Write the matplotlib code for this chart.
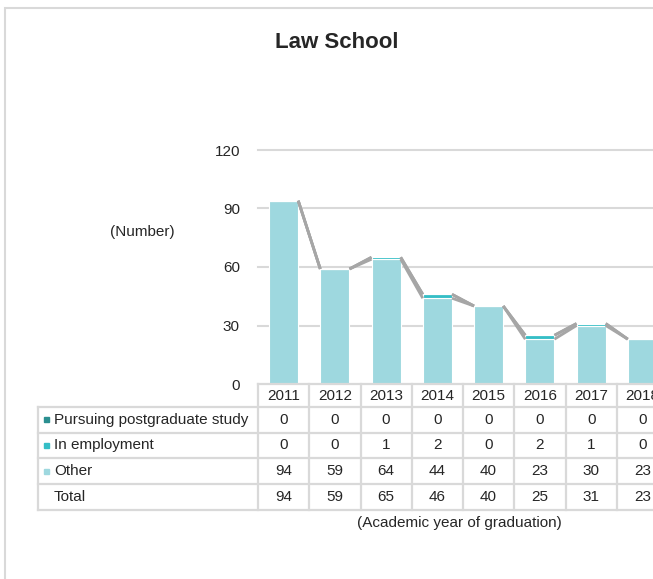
import matplotlib
matplotlib.use("Agg")
import matplotlib.pyplot as plt
import matplotlib.transforms as mtransforms
from matplotlib.patches import Rectangle
from matplotlib.lines import Line2D
import numpy as np

plt.rcParams['font.family'] = ['Liberation Sans', 'DejaVu Sans']

years = ['2011', '2012', '2013', '2014', '2015', '2016', '2017', '2018']
pursuing = [0, 0, 0, 0, 0, 0, 0, 0]
employment = [0, 0, 1, 2, 0, 2, 1, 0]
other = [94, 59, 64, 44, 40, 23, 30, 23]
total = [94, 59, 65, 46, 40, 25, 31, 23]
series_names = ['Pursuing postgraduate study', 'In employment', 'Other']
yticks = [0, 30, 60, 90, 120]

c_other = '#9ed8df'
c_emp = '#35bec6'
c_purs = '#2b8f90'
grid_c = '#d9d9d9'
line_c = '#a6a6a6'
text_c = '#262626'
fs = 11

W, H = 653, 579
fig = plt.figure(figsize=(W / 100, H / 100), dpi=100)

def fx(px):
    return px / W

def fy(py):
    return (H - py) / H

cat_w = 51.25
ax_left = 258
ax_top = 150
ax_bot = 384
ax = fig.add_axes([fx(ax_left), fy(ax_bot), 8 * cat_w / W, (ax_bot - ax_top) / H])
ax.set_xlim(-0.5, 7.5)
ax.set_ylim(0, 120)
for s in ax.spines.values():
    s.set_visible(False)
ax.set_xticks([])
ax.set_yticks(yticks)
ax.set_yticklabels([str(t) for t in yticks], fontsize=fs, color=text_c)
ax.tick_params(axis='y', length=0, pad=13)
for t in yticks[1:]:
    ax.axhline(t, color=grid_c, lw=1.5, zorder=0, clip_on=False)

x = np.arange(len(years))
bw = 0.57
other_a = np.array(other)
emp_a = np.array(employment)
purs_a = np.array(pursuing)
ax.bar(x, other_a, bw, color=c_other, edgecolor='white', lw=0.8, zorder=2)
ax.bar(x, emp_a, bw, bottom=other_a, color=c_emp, edgecolor='white', lw=0.8, zorder=2)
ax.bar(x, purs_a, bw, bottom=other_a + emp_a, color=c_purs, edgecolor='white', lw=0.8, zorder=2)

# series lines
tops = [other_a, other_a + emp_a, other_a + emp_a + purs_a]
for top in tops:
    for i in range(len(years) - 1):
        ax.plot([x[i] + bw / 2, x[i + 1] - bw / 2], [top[i], top[i + 1]],
                color=line_c, lw=2.0, zorder=3, solid_capstyle='butt', clip_on=False)

# title and axis texts
fig.text(fx(337), fy(43), 'Law School', ha='center', va='center', fontsize=16,
         fontweight='bold', color=text_c)
fig.text(fx(142), fy(232), '(Number)', ha='center', va='center', fontsize=fs, color=text_c)
fig.text(fx(459), fy(523), '(Academic year of graduation)', ha='center', va='center',
         fontsize=fs, color=text_c)

# table
tr = mtransforms.blended_transform_factory(ax.transData, fig.transFigure)
rows_px = [384, 407, 432.5, 458, 484, 510]
left_x = -0.5 - (ax_left - 38) / cat_w
right_x = 8.5
tlw = 1.6
ax.add_line(Line2D([-0.5, right_x], [fy(rows_px[0])] * 2, transform=tr, color=grid_c, lw=tlw, clip_on=False))
for r in rows_px[1:]:
    ax.add_line(Line2D([left_x, right_x], [fy(r)] * 2, transform=tr, color=grid_c, lw=tlw, clip_on=False))
ax.add_line(Line2D([left_x, left_x], [fy(rows_px[1]), fy(rows_px[-1])], transform=tr, color=grid_c, lw=tlw, clip_on=False))
for i in range(len(years) + 1):
    xb = i - 0.5
    ax.add_line(Line2D([xb, xb], [fy(rows_px[0]), fy(rows_px[-1])], transform=tr, color=grid_c, lw=tlw, clip_on=False))

def row_mid(k):
    return fy((rows_px[k] + rows_px[k + 1]) / 2)

for i, yr in enumerate(years):
    ax.text(i, row_mid(0), yr, transform=tr, ha='center', va='center', fontsize=fs,
            color=text_c, clip_on=False)

table_rows = [
    (series_names[0], pursuing, c_purs),
    (series_names[1], employment, c_emp),
    (series_names[2], other, c_other),
    ('Total', total, None),
]
label_x = left_x + 16 / cat_w
for k, (name, vals, col) in enumerate(table_rows):
    ym = row_mid(k + 1)
    if col is not None:
        fig.patches.append(Rectangle((fx(44), ym - 2.5 / H), 5 / W, 5 / H,
                                     transform=fig.transFigure, color=col))
    ax.text(label_x, ym, name, transform=tr, ha='left', va='center', fontsize=fs,
            color=text_c, clip_on=False)
    for i, v in enumerate(vals):
        ax.text(i, ym, str(v), transform=tr, ha='center', va='center', fontsize=fs,
                color=text_c, clip_on=False)

# outer border
fig.patches.append(Rectangle((fx(5), fy(700)), 1.2, fy(8) - fy(700), transform=fig.transFigure,
                             fill=False, edgecolor=grid_c, lw=1.5))

fig.savefig('out.png', dpi=100)
